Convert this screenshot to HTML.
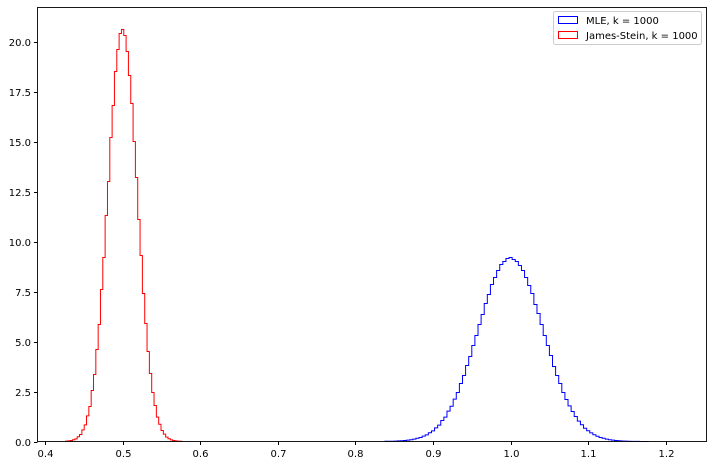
<!DOCTYPE html>
<html><head><meta charset="utf-8"><style>
html,body{margin:0;padding:0;background:#fff}
svg{display:block;font-family:"DejaVu Sans","Liberation Sans",sans-serif}
</style></head><body>
<svg id="chart" width="713" height="466">
<rect x="37.5" y="7.5" width="669" height="434" fill="#fff" stroke="none"/>
<g id="series"></g>
<g id="axes"></g>
<g>
<rect x="553.5" y="11.5" width="148" height="33" rx="2" fill="#fff" stroke="#ccc"/>
<g>
<rect x="558.5" y="16.5" width="19" height="7" fill="none" stroke="blue"/>
<text x="586" y="24" font-size="10" fill="#000">MLE, k = 1000</text></g>
<g>
<rect x="558.5" y="31.5" width="19" height="7" fill="none" stroke="red"/>
<text x="586" y="39" font-size="10" fill="#000">James-Stein, k = 1000</text></g>
</g>
</svg>
<script>
const xTicks=[0.4,0.5,0.6,0.7,0.8,0.9,1.0,1.1,1.2];
const yTicks=[0,2.5,5,7.5,10,12.5,15,17.5,20];
const redStart=0.4265, redWidth=0.003;
const redValues=[0.02,0.03,0.05,0.09,0.13,0.24,0.35,0.58,0.83,1.28,1.75,2.55,3.35,4.6,5.85,7.6,9.2,11.3,13.0,15.2,16.8,18.5,19.6,20.4,20.6,20.3,19.5,18.3,16.9,15.0,13.2,11.1,9.3,7.4,5.9,4.5,3.4,2.45,1.8,1.22,0.86,0.55,0.37,0.22,0.14,0.08,0.05,0.03,0.02,0.01];
const blueStart=0.838, blueWidth=0.004;
const blueValues=[0.01,0.01,0.01,0.02,0.03,0.04,0.05,0.07,0.09,0.12,0.16,0.2,0.27,0.33,0.44,0.53,0.68,0.82,1.05,1.22,1.52,1.76,2.12,2.45,2.9,3.3,3.8,4.25,4.8,5.3,5.85,6.35,6.9,7.35,7.85,8.2,8.55,8.85,9.0,9.15,9.2,9.1,9.0,8.8,8.55,8.2,7.8,7.4,6.85,6.4,5.85,5.3,4.8,4.3,3.75,3.3,2.9,2.45,2.1,1.78,1.5,1.25,1.02,0.84,0.66,0.54,0.43,0.34,0.26,0.2,0.16,0.12,0.09,0.07,0.05,0.035,0.025,0.018,0.013,0.009,0.006,0.004,0.003,0.002,0.001];
const NS='http://www.w3.org/2000/svg';
function sx(v){return 45+(v-0.4)*776;}
function sy(v){return 441.5-v*20;}
function stepPath(start,w,vals){
  let d='M'+sx(start).toFixed(2)+','+sy(0);
  vals.forEach((v,i)=>{
    const x0=sx(start+i*w),x1=sx(start+(i+1)*w),y=sy(v).toFixed(2);
    d+=' L'+x0.toFixed(2)+','+y+' L'+x1.toFixed(2)+','+y;
  });
  d+=' L'+sx(start+vals.length*w).toFixed(2)+','+sy(0);
  return d;
}
const series=document.getElementById('series');
const pb=document.createElementNS(NS,'path');
pb.setAttribute('d',stepPath(blueStart,blueWidth,blueValues));
pb.setAttribute('fill','none');pb.setAttribute('stroke','blue');pb.setAttribute('stroke-width','1');


series.appendChild(pb);
const pr=document.createElementNS(NS,'path');
pr.setAttribute('d',stepPath(redStart,redWidth,redValues));
pr.setAttribute('fill','none');pr.setAttribute('stroke','red');pr.setAttribute('stroke-width','1');


series.appendChild(pr);
const axes=document.getElementById('axes');
const frame=document.createElementNS(NS,'rect');
frame.setAttribute('x','37.5');frame.setAttribute('y','7.5');frame.setAttribute('width','669');frame.setAttribute('height','434');
frame.setAttribute('fill','none');frame.setAttribute('stroke','#000');frame.setAttribute('stroke-width','0.9');


axes.appendChild(frame);
xTicks.forEach(t=>{
  const x=Math.round(sx(t))+0.5;
  const l=document.createElementNS(NS,'line');
  l.setAttribute('x1',x);l.setAttribute('x2',x);l.setAttribute('y1',441.5);l.setAttribute('y2',445);l.setAttribute('stroke','#000');
  
  
  axes.appendChild(l);
  const tx=document.createElementNS(NS,'text');
  tx.setAttribute('x',x);tx.setAttribute('y',457);tx.setAttribute('font-size','10');tx.setAttribute('text-anchor','middle');
  tx.textContent=t.toFixed(1);
  
  
  axes.appendChild(tx);
});
yTicks.forEach(t=>{
  const y=Math.round(sy(t))+0.5;
  const l=document.createElementNS(NS,'line');
  l.setAttribute('x1',34);l.setAttribute('x2',37.5);l.setAttribute('y1',y);l.setAttribute('y2',y);l.setAttribute('stroke','#000');
  
  
  axes.appendChild(l);
  const tx=document.createElementNS(NS,'text');
  tx.setAttribute('x',31);tx.setAttribute('y',y+3.5);tx.setAttribute('font-size','10');tx.setAttribute('text-anchor','end');
  tx.textContent=t.toFixed(1);
  
  
  axes.appendChild(tx);
});
</script>
</body></html>
